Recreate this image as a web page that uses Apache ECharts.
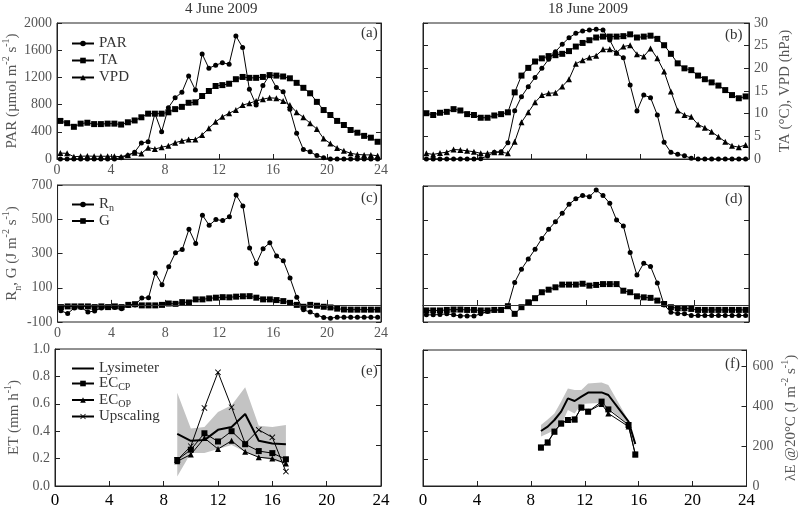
<!DOCTYPE html>
<html>
<head>
<meta charset="utf-8">
<script src="https://cdn.jsdelivr.net/npm/echarts@6/dist/echarts.min.js"></script>
<style>
  html, body { margin: 0; padding: 0; background: #fff; }
  #chart { width: 800px; height: 509px; }
</style>
</head>
<body>
<div id="chart"></div>
<script>
// half-hourly timestamps (mid-interval), hours of day
const hours = [0.25, 0.75, 1.25, 1.75, 2.25, 2.75, 3.25, 3.75, 4.25, 4.75, 5.25, 5.75,
  6.25, 6.75, 7.25, 7.75, 8.25, 8.75, 9.25, 9.75, 10.25, 10.75, 11.25, 11.75,
  12.25, 12.75, 13.25, 13.75, 14.25, 14.75, 15.25, 15.75, 16.25, 16.75, 17.25, 17.75,
  18.25, 18.75, 19.25, 19.75, 20.25, 20.75, 21.25, 21.75, 22.25, 22.75, 23.25, 23.75]

// (a) 4 June
const parJun4 = [0, 0, 0, 0, 0, 0, 0, 0, 0, 20, 50, 100, 235, 255, 670, 400, 755, 900, 980, 1220, 1015, 1545, 1335, 1380,
  1415, 1395, 1810, 1640, 1025, 795, 1080, 1235, 1050, 990, 730, 380, 140, 105, 50, 20, 0, 0, 0, 0, 0, 0, 0, 0]
const taJun4 = [8.4, 7.9, 7.1, 7.8, 8.0, 7.7, 7.7, 7.8, 7.8, 7.6, 8.1, 8.5, 9.2, 10.0, 10.0, 10.0, 10.3, 11.0, 11.5, 12.4, 12.5, 13.9, 15.0, 16.1,
  16.3, 16.6, 17.6, 18.1, 17.9, 17.9, 18.1, 18.5, 18.4, 18.2, 17.8, 16.8, 15.7, 14.5, 12.6, 10.8, 9.7, 8.4, 7.5, 6.4, 5.8, 5.1, 4.7, 3.8]
const vpdJun4 = [1.3, 1.25, 0.5, 0.6, 0.65, 0.6, 0.6, 0.6, 0.6, 0.5, 0.9, 1.4, 1.2, 2.5, 2.2, 2.6, 2.9, 3.6, 4.0, 4.3, 4.3, 5.3, 6.8, 8.2,
  9.3, 10.1, 10.8, 11.9, 12.3, 12.8, 13.2, 13.5, 13.4, 12.8, 11.9, 10.3, 9.2, 7.9, 6.6, 4.5, 3.4, 2.4, 1.8, 1.25, 1.0, 0.9, 0.9, 0.7]

// (b) 18 June
const parJun18 = [0, 0, 0, 0, 0, 0, 0, 0, 5, 45, 100, 108, 240, 710, 917, 1064, 1200, 1333, 1466, 1578, 1686, 1784, 1848, 1882,
  1897, 1907, 1897, 1750, 1554, 1490, 1088, 706, 941, 902, 647, 245, 98, 69, 49, 10, 0, 0, 0, 0, 0, 0, 0, 0]
const taJun18 = [10.1, 9.7, 10.2, 10.4, 11.0, 10.7, 9.9, 9.7, 9.1, 9.1, 9.6, 9.9, 10.3, 14.7, 18.4, 20.1, 21.5, 22.2, 22.7, 22.9, 23.2, 23.8, 24.8, 25.6,
  26.2, 26.8, 27.0, 27.0, 27.0, 27.1, 27.5, 26.8, 27.0, 27.2, 26.5, 25.1, 23.2, 21.1, 20.0, 19.6, 18.4, 17.6, 16.9, 16.2, 15.2, 14.1, 13.4, 13.8]
const vpdJun18 = [1.25, 1.0, 1.3, 1.5, 2.1, 2.0, 1.8, 1.6, 1.25, 1.25, 1.5, 1.5, 1.25, 3.8, 8.1, 10.3, 12.5, 14.1, 14.5, 14.6, 16.0, 17.6, 21.0, 21.8,
  22.4, 22.8, 24.2, 24.2, 23.5, 24.8, 25.1, 23.1, 22.6, 24.4, 22.2, 19.3, 14.9, 10.7, 9.7, 9.3, 7.6, 6.9, 6.0, 4.9, 3.8, 2.9, 2.6, 3.1]

// (c) 4 June
const rnJun4 = [-35, -50, -18, -15, -42, -36, -18, -16, -16, -22, -4, 0, 40, 42, 186, 118, 223, 305, 323, 441, 358, 524, 465, 498,
  492, 514, 641, 578, 332, 241, 328, 363, 285, 258, 157, 44, -29, -42, -60, -73, -78, -72, -72, -72, -72, -72, -72, -72]
const gJun4 = [-13, -9, -9, -9, -9, -13, -9, -13, -9, -13, 0, 4, -3, -3, -3, 0, 8, 6, 16, 14, 32, 32, 38, 42,
  45, 44, 48, 50, 51, 42, 32, 32, 28, 22, 12, 0, -11, 0, -5, -11, -15, -22, -27, -28, -28, -28, -28, -28]

// (d) 18 June
const rnJun18 = [-58, -58, -56, -52, -58, -64, -64, -64, -52, -38, -30, -30, -7, 133, 211, 270, 328, 391, 445, 490, 539, 592, 625, 644,
  637, 676, 644, 598, 500, 465, 309, 176, 246, 227, 129, 0, -42, -50, -52, -62, -62, -62, -62, -62, -62, -62, -62, -62]
const gJun18 = [-32, -32, -32, -29, -27, -27, -29, -29, -32, -32, -29, -29, -7, -52, -13, 16, 40, 75, 90, 104, 120, 120, 120, 125,
  114, 118, 123, 123, 123, 84, 75, 51, 45, 42, 26, 6, -13, -19, -19, -23, -29, -29, -29, -29, -29, -29, -29, -29]

// (e) 4 June, hourly ET (mm/h)
const etHoursJun4 = [9, 10, 11, 12, 13, 14, 15, 16, 17]
const lysJun4 = [0.38, 0.33, 0.335, 0.41, 0.43, 0.525, 0.33, 0.31, 0.305]
const eccpJun4 = [0.19, 0.265, 0.385, 0.325, 0.40, 0.305, 0.255, 0.24, 0.195]
const ecopJun4 = [0.18, 0.23, 0.35, 0.27, 0.33, 0.25, 0.21, 0.20, 0.165]
const upscJun4 = [0.19, 0.29, 0.57, 0.83, 0.575, 0.31, 0.41, 0.355, 0.105]
const bandHiJun4 = [0.68, 0.42, 0.43, 0.54, 0.59, 0.72, 0.44, 0.43, 0.445]
const bandLoJun4 = [0.07, 0.24, 0.24, 0.27, 0.30, 0.25, 0.21, 0.19, 0.16]

// (f) 18 June, lambdaE (J m-2 s-1)
const etHoursJun18 = [8.75, 9.25, 9.75, 10.25, 10.75, 11.25, 11.75, 12.25, 13.25, 13.75, 15.25, 15.75]
const lysJun18 = [275, 297, 330, 372, 438, 425, 447, 467, 468, 455, 322, 210]
const eccpJun18 = [193, 218, 272, 313, 330, 333, 393, 372, 422, 383, 305, 158]
const ecopJun18 = [193, 218, 272, 313, 330, 333, 393, 372, 410, 363, 297, 158]
const bandHiJun18 = [305, 333, 363, 422, 488, 480, 480, 513, 517, 505, 327, 205]
const bandLoJun18 = [247, 263, 280, 305, 380, 363, 410, 412, 415, 390, 305, 197]

const FONT = 'Liberation Serif'
const TXT = '#555'
const INK = '#000'

const chart = echarts.init(document.getElementById('chart'))

const pairs = (xs, ys) => xs.map((x, k) => [x, ys[k]])

const sub = { fontFamily: FONT, fontSize: 10, color: TXT, lineHeight: 10, verticalAlign: 'bottom' }
const sup = { fontFamily: FONT, fontSize: 10, color: TXT, lineHeight: 10, verticalAlign: 'top' }
const nameRich = {
  t: { fontFamily: FONT, fontSize: 15, color: TXT, lineHeight: 22 },
  sup, sub
}

const grids = [
  { left: 55, top: 23, width: 326, height: 136 },
  { left: 423, top: 23, width: 326, height: 136 },
  { left: 55, top: 185, width: 326, height: 137 },
  { left: 423, top: 186, width: 326, height: 136 },
  { left: 55, top: 349, width: 326, height: 137 },
  { left: 423, top: 350, width: 326, height: 136 }
].map(g => ({ ...g, show: true, borderColor: '#222', borderWidth: 1, backgroundColor: 'transparent' }))

const plain = v => String(v)

const mkX = (gi, labels, big) => ({
  type: 'value', gridIndex: gi, min: 0, max: 24, interval: 4,
  axisLine: { show: true, lineStyle: { color: '#222' } },
  axisTick: { show: true, inside: true, length: 5, lineStyle: { color: '#222' } },
  axisLabel: {
    show: labels, margin: big ? 6 : 4, formatter: plain,
    fontFamily: FONT, fontSize: big ? 17 : 14, color: big ? INK : TXT
  },
  splitLine: { show: false }
})

const labelOn = (extra) => ({ show: true, margin: 5, fontFamily: FONT, fontSize: 14, color: TXT, formatter: plain, ...extra })

const mkY = (gi, pos, min, max, interval, extra) => ({
  type: 'value', gridIndex: gi, position: pos, min, max, interval,
  axisLine: { show: true, lineStyle: { color: '#222' } },
  axisTick: { show: true, inside: true, length: 5, lineStyle: { color: '#222' } },
  axisLabel: { show: false },
  splitLine: { show: false },
  ...extra
})

const yAxis = [
  // (a)
  mkY(0, 'left', 0, 2000, 400, {
    axisLabel: labelOn(),
    name: '{t|PAR (µmol m}{sup|-2}{t| s}{sup|-1}{t|)}',
    nameLocation: 'middle', nameRotate: 90, nameGap: 34,
    nameTextStyle: { rich: nameRich }
  }),
  mkY(0, 'right', 0, 30, 6),
  // (b)
  mkY(1, 'left', 0, 2000, 2000 / 6),
  mkY(1, 'right', 0, 30, 5, {
    axisLabel: labelOn(),
    name: '{t|TA (°C), VPD (hPa)}',
    nameLocation: 'middle', nameRotate: 90, nameGap: 25,
    nameTextStyle: { rich: nameRich }
  }),
  // (c)
  mkY(2, 'left', -100, 700, 200, {
    axisLabel: labelOn(),
    name: '{t|R}{sub|n}{t|, G (J m}{sup|-2}{t| s}{sup|-1}{t|)}',
    nameLocation: 'middle', nameRotate: 90, nameGap: 34,
    nameTextStyle: { rich: nameRich }
  }),
  mkY(2, 'right', -100, 700, 200),
  // (d)
  mkY(3, 'left', -100, 700, 200),
  mkY(3, 'right', -100, 700, 200),
  // (e)
  mkY(4, 'left', 0, 1, 0.2, {
    axisLabel: labelOn({ formatter: v => v.toFixed(1) }),
    name: '{t|ET (mm h}{sup|-1}{t|)}',
    nameLocation: 'middle', nameRotate: 90, nameGap: 30,
    nameTextStyle: { rich: nameRich }
  }),
  mkY(4, 'right', 0, 680, 200),
  // (f)
  mkY(5, 'left', 0, 1, 0.2),
  mkY(5, 'right', 0, 680, 200, {
    axisLabel: labelOn({ margin: 6, formatter: v => (v % 200 === 0 ? String(v) : '') }),
    name: '{t|λE @20°C (J m}{sup|-2}{t| s}{sup|-1}{t|)}',
    nameLocation: 'middle', nameRotate: 90, nameGap: 34,
    nameTextStyle: { rich: nameRich }
  })
]

const xAxis = [mkX(0, true, false), mkX(1, false, false), mkX(2, true, false),
  mkX(3, false, false), mkX(4, true, true), mkX(5, true, true)]

const SYM = {
  circle: { symbol: 'circle', symbolSize: 5 },
  square: { symbol: 'rect', symbolSize: 6 },
  tri: { symbol: 'triangle', symbolSize: 6 },
  cross: { symbol: 'path://M0,1 L1,0 L5,4 L9,0 L10,1 L6,5 L10,9 L9,10 L5,6 L1,10 L0,9 L4,5 Z', symbolSize: 6 },
  none: { symbol: 'none' }
}

const line = (name, xi, yi, xs, ys, sym, extra) => ({
  name, type: 'line', xAxisIndex: xi, yAxisIndex: yi,
  data: pairs(xs, ys),
  ...SYM[sym],
  showSymbol: sym !== 'none',
  itemStyle: { color: INK },
  lineStyle: { color: INK, width: 1 },
  emphasis: { disabled: true },
  z: 3,
  ...extra
})

const zeroLine = {
  silent: true, symbol: 'none', label: { show: false },
  lineStyle: { color: '#333', width: 1, type: 'solid' },
  data: [{ yAxis: 0 }]
}

// grey range band drawn as one polygon through the axis scales
const band = (xi, yi, xs, lo, hi) => ({
  type: 'custom', xAxisIndex: xi, yAxisIndex: yi, silent: true, z: 1,
  data: xs.map((x, k) => [x, lo[k], hi[k]]),
  encode: { x: 0, y: [1, 2] },
  renderItem: (params, api) => {
    if (params.dataIndex !== 0) return null
    const upper = xs.map((x, k) => api.coord([x, hi[k]]))
    const lower = xs.map((x, k) => api.coord([x, lo[k]])).reverse()
    return { type: 'polygon', shape: { points: upper.concat(lower) }, style: { fill: '#c3c3c3' } }
  }
})

const thick = { lineStyle: { color: INK, width: 2 } }

const series = [
  line('PAR', 0, 0, hours, parJun4, 'circle'),
  line('TA', 0, 1, hours, taJun4, 'square'),
  line('VPD', 0, 1, hours, vpdJun4, 'tri'),
  line('PAR', 1, 2, hours, parJun18, 'circle'),
  line('TA', 1, 3, hours, taJun18, 'square'),
  line('VPD', 1, 3, hours, vpdJun18, 'tri'),
  line('Rn', 2, 4, hours, rnJun4, 'circle'),
  line('G', 2, 4, hours, gJun4, 'square', { markLine: zeroLine }),
  line('Rn', 3, 6, hours, rnJun18, 'circle'),
  line('G', 3, 6, hours, gJun18, 'square', { markLine: zeroLine }),
  band(4, 8, etHoursJun4, bandLoJun4, bandHiJun4),
  line('Lysimeter', 4, 8, etHoursJun4, lysJun4, 'none', thick),
  line('EC_CP', 4, 8, etHoursJun4, eccpJun4, 'square'),
  line('EC_OP', 4, 8, etHoursJun4, ecopJun4, 'tri'),
  line('Upscaling', 4, 8, etHoursJun4, upscJun4, 'cross'),
  band(5, 11, etHoursJun18, bandLoJun18, bandHiJun18),
  line('Lysimeter', 5, 11, etHoursJun18, lysJun18, 'none', thick),
  line('EC_OP', 5, 11, etHoursJun18, ecopJun18, 'tri'),
  line('EC_CP', 5, 11, etHoursJun18, eccpJun18, 'square')
]

const legendText = {
  fontFamily: FONT, fontSize: 15, color: '#333',
  rich: {
    n: { fontFamily: FONT, fontSize: 15, color: '#333', lineHeight: 18 },
    s: { fontFamily: FONT, fontSize: 10, color: '#333', lineHeight: 9, verticalAlign: 'bottom' }
  }
}
const legendNames = {
  Rn: '{n|R}{s|n}',
  EC_CP: '{n|EC}{s|CP}',
  EC_OP: '{n|EC}{s|OP}'
}
const mkLegend = (data, left, top, gap) => ({
  data, left, top, orient: 'vertical', itemWidth: 22, itemHeight: 7, itemGap: gap,
  selectedMode: false, padding: 0,
  textStyle: legendText,
  formatter: name => legendNames[name] || '{n|' + name + '}'
})

const txt = (text, x, y) => ({
  type: 'text', left: x, top: y,
  style: { text, fontFamily: FONT, fontSize: 15, fill: '#333' }
})

chart.setOption({
  animation: false,
  textStyle: { fontFamily: FONT },
  grid: grids,
  xAxis,
  yAxis,
  legend: [
    mkLegend(['PAR', 'TA', 'VPD'], 71, 36, 2),
    mkLegend(['Rn', 'G'], 71, 197, 0),
    mkLegend([
      { name: 'Lysimeter', icon: 'path://M0,0 L22,0 L22,2 L0,2 Z', itemStyle: { color: INK } },
      'EC_CP', 'EC_OP', 'Upscaling'
    ], 71, 361, 0)
  ],
  graphic: [
    txt('4 June 2009', 185, 2),
    txt('18 June 2009', 548, 2),
    txt('(a)', 361, 26),
    txt('(b)', 725, 28),
    txt('(c)', 361, 191),
    txt('(d)', 725, 192),
    txt('(e)', 361, 364),
    txt('(f)', 725, 357)
  ],
  series
})
</script>
</body>
</html>
